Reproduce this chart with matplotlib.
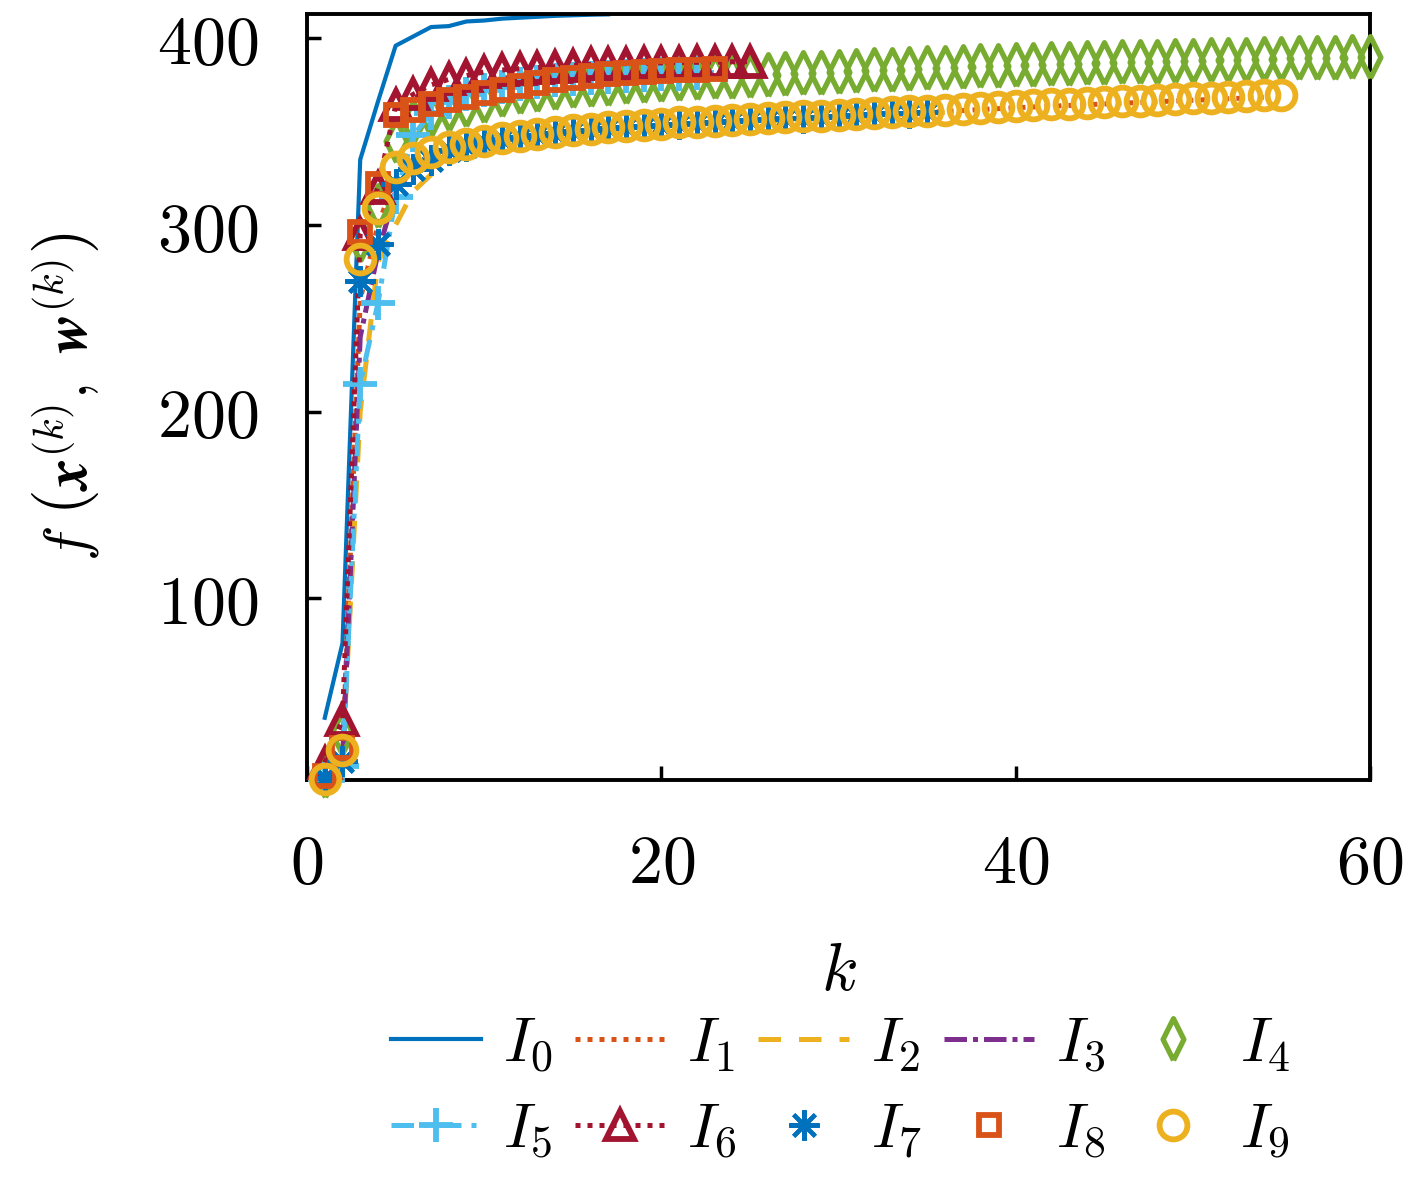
import matplotlib
matplotlib.use("Agg")
import matplotlib.pyplot as plt

# Valores: f(x^(k), w^(k)) por iteracion k para cada instancia
I0 = [36, 76, 335, 366, 396, 401, 406, 406.5, 409, 409.5, 410.5, 411, 411.5, 412, 412.3, 412.6, 412.8]
I1 = [3, 15, 260, 300, 325, 333, 337.5, 340.5, 342.5, 344, 345.5, 346.7, 347.8, 348.8, 349.7,
      350.5, 351.3, 352, 352.7, 353.3, 353.9, 354.4, 354.9, 355.4, 355.9, 356.3, 356.7, 357.1,
      357.5, 357.9, 358.3, 358.8, 359.3, 359.8, 360.3, 360.8, 361.3, 361.8, 362.3, 362.8, 363.2,
      363.6, 364, 364.4, 364.8, 365.2, 365.6, 366, 366.4, 366.8, 367.2, 367.6, 368, 368.4]
I2 = [3, 14, 200, 280, 300, 318, 327, 333, 337, 340, 342.5, 344.5, 346, 347.3, 348.5, 349.5,
      350.4, 351.2, 352, 352.7, 353.3, 353.9, 354.4, 354.9, 355.4, 355.8, 356.2, 356.6, 357,
      357.4, 357.8, 358.3, 358.8, 359.3, 359.8, 360.3]
I3 = [4, 12, 240, 285, 318, 330, 336, 340, 342.5, 344.2, 345.7, 347, 348, 349, 349.9, 350.7,
      351.4, 352.1, 352.8, 353.4, 354, 354.5, 355, 355.5, 356, 356.4, 356.8, 357.2, 357.6, 358]
I4 = [5, 28, 292, 310, 345, 355, 359, 362, 364.5, 366.5, 369.5, 371, 372.2, 373.3, 374.2, 375,
      375.7, 376.3, 376.9, 377.5, 378, 378.5, 379, 379.5, 380, 380.4, 380.8, 381.2, 381.6, 382,
      382.4, 382.8, 383.2, 383.6, 384, 384.3, 384.6, 384.9, 385.2, 385.5, 385.8, 386.1, 386.4,
      386.6, 386.8, 387.1, 387.3, 387.5, 387.8, 388, 388.2, 388.4, 388.6, 388.8, 389, 389.2,
      389.4, 389.6, 389.8, 390]
I5 = [3, 10, 215, 258, 315, 348, 360, 366, 370, 372.5, 374, 375.5, 376.5, 377.5, 378.2, 378.8,
      379.3, 379.8, 380.2, 380.6, 381, 381.3]
I6 = [12, 35, 295, 320, 364, 370, 375, 378, 380, 382, 383, 383.7, 384.3, 384.8, 385.3, 386,
      386.2, 386.4, 386.6, 386.8, 387, 387.1, 387.2, 387.4, 387.5]
I7 = [3.5, 13, 270, 290, 322, 330, 335, 340, 342.5, 344.3, 345.8, 347.1, 348.2, 349.2, 350.1,
      350.9, 351.7, 352.4, 353.1, 353.7, 354.3, 354.8, 355.3, 355.8, 356.3, 356.7, 357.1, 357.5,
      357.9, 358.3, 358.7, 359.2, 359.7, 360.2, 360.7]
I8 = [5, 20, 296, 322, 359, 361.5, 365, 367, 368.5, 370.5, 372.5, 374.3, 376, 377.5, 378.8,
      379.9, 380.8, 381.5, 382, 382.4, 382.8, 383.1, 383.4]
I9 = [3.2, 19, 282, 309, 331, 336, 339, 341.5, 343.5, 345, 346.5, 347.7, 348.8, 349.8, 350.7,
      351.5, 352.3, 353, 353.7, 354.3, 354.9, 355.4, 355.9, 356.4, 356.9, 357.3, 357.7, 358.1,
      358.5, 358.9, 359.3, 359.8, 360.3, 360.8, 361.3, 361.8, 362.3, 362.8, 363.3, 363.8, 364.2,
      364.6, 365, 365.4, 365.8, 366.2, 366.6, 367, 367.4, 367.8, 368.2, 368.6, 369, 369.4, 369.8]

series = [I0, I1, I2, I3, I4, I5, I6, I7, I8, I9]
labels = [r'$I_{%d}$' % i for i in range(10)]

xticks = [0, 20, 40, 60]
xtick_labels = ['$0$', '$20$', '$40$', '$60$']
yticks = [100, 200, 300, 400]
ytick_labels = ['$100$', '$200$', '$300$', '$400$']

# colores por defecto de MATLAB
colores = ['#0072BD', '#D95319', '#EDB120', '#7E2F8E', '#77AC30',
           '#4DBEEE', '#A2142F', '#0072BD', '#D95319', '#EDB120']

# rombo estrecho como el de MATLAB
rombo = [(0, -1), (0.5, 0), (0, 1), (-0.5, 0), (0, -1)]

# (estilo de linea, grosor, marcador, tamano de marcador, grosor de borde)
estilos = [
    ('-', 3.0, None, 0, 0),
    ((0, (1.0, 1.4)), 3.6, None, 0, 0),
    ((0, (4.5, 3.6)), 3.6, None, 0, 0),
    ((0, (4.5, 1.2, 1.0, 1.2)), 3.6, None, 0, 0),
    ('none', 3.6, rombo, 30, 3.8),
    ((0, (4.5, 2.0, 1.0, 2.0)), 3.6, '+', 24, 4.2),
    ((0, (1.0, 1.4)), 3.6, '^', 20, 4.2),
    ('none', 3.6, (8, 2, 0), 22, 3.0),
    ('none', 3.6, 's', 14, 4.2),
    ('none', 3.6, 'o', 20, 4.2),
]

plt.rcParams['mathtext.fontset'] = 'cm'
plt.rcParams['font.family'] = ['DejaVu Serif']

fig = plt.figure(figsize=(14.17, 11.85), dpi=100)
ax = fig.add_axes([0.2167, 0.3418, 0.7501, 0.6464])

handles = []
for i, (vals, col, (ls, lw, mk, ms, mew)) in enumerate(zip(series, colores, estilos)):
    k = list(range(1, len(vals) + 1))
    h, = ax.plot(k, vals, color=col, linestyle=ls, linewidth=lw,
                 marker=mk, markersize=ms, markeredgewidth=mew,
                 markerfacecolor='none', markeredgecolor=col,
                 clip_on=False, label=labels[i], zorder=2 + i)
    handles.append(h)

ax.set_xlim(0, 60)
ax.set_ylim(2.7, 413)
ax.set_xticks(xticks)
ax.set_xticklabels(xtick_labels)
ax.set_yticks(yticks)
ax.set_yticklabels(ytick_labels)
ax.tick_params(direction='in', length=10, width=2.5, labelsize=49, pad=35)
ax.tick_params(axis='x', pad=37)
for s in ax.spines.values():
    s.set_linewidth(2.8)

ax.set_xlabel(r'$k$', fontsize=48, labelpad=30)
ax.set_ylabel(r'$f\ \left(\boldsymbol{x}^{(k)},\ \boldsymbol{w}^{(k)}\right)$',
              fontsize=43, labelpad=40)

# leyenda en dos filas: I0..I4 arriba, I5..I9 abajo
orden = [0, 5, 1, 6, 2, 7, 3, 8, 4, 9]
fig.legend([handles[i] for i in orden], [labels[i] for i in orden],
           ncol=5, loc='center', bbox_to_anchor=(0.593, 0.083), frameon=False,
           fontsize=45, handlelength=1.45, handletextpad=0.35, columnspacing=0.35,
           labelspacing=0.4)

fig.savefig('out.png', dpi=100)
